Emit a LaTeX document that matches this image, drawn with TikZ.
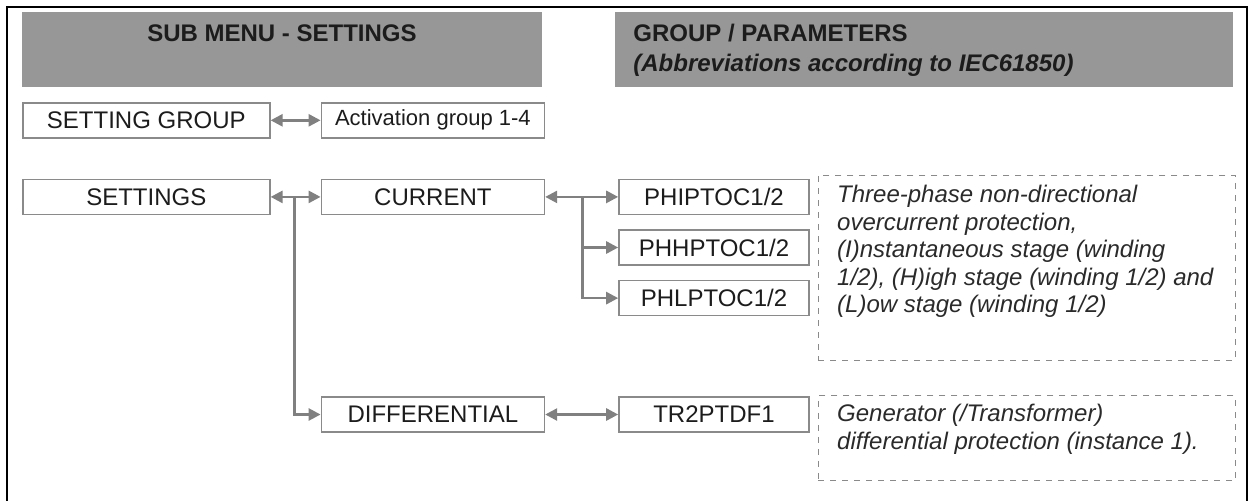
\documentclass[tikz,border=0pt]{standalone}
\usepackage{fontspec}
\setmainfont{Liberation Sans}
\usepackage{tikz}
\usetikzlibrary{arrows.meta, positioning}
\definecolor{headgray}{HTML}{979797}
\definecolor{framegray}{HTML}{8A8A8A}
\definecolor{linkgray}{HTML}{808080}
\definecolor{ink}{HTML}{1C1C1C}
\definecolor{descink}{HTML}{2A2A2A}

\begin{document}
\begin{tikzpicture}[x=0.5pt, y=-0.5pt, >={Triangle[length=6pt, width=6pt]}, font=\fontsize{12}{14}\selectfont]
    \tikzstyle{banner} = [rectangle, fill=headgray, minimum height=37.5pt, inner sep=0pt, anchor=north west]
    \tikzstyle{bannertext} = [inner sep=0pt, text=ink, font=\bfseries\fontsize{12}{14}\selectfont]
    \tikzstyle{menu} = [rectangle, draw=framegray, fill=white, line width=0.8pt, minimum height=17.5pt, inner sep=0pt, text=ink]
    \tikzstyle{param} = [menu, minimum width=95pt]
    \tikzstyle{descbox} = [rectangle, draw=framegray, dashed, line width=0.6pt, minimum width=208.5pt, inner sep=0pt]
    \tikzstyle{desc} = [align=left, inner sep=0pt, text=descink, font=\itshape\fontsize{12}{13.75}\selectfont]
    \tikzstyle{link} = [draw=linkgray, line width=1.3pt]

    \useasboundingbox (0,0) rectangle (1249,500);
    \draw [line width=1pt] (7,7) rectangle (1247,520);

    \node [banner, minimum width=260pt] (hsub) at (22,12) {};
    \node [banner, minimum width=309pt] (hgrp) at (615,12) {};
    \node [bannertext, anchor=base] (tsub) at (282,41.5) {SUB MENU - SETTINGS};
    \node [bannertext, anchor=base west] (tgrp) at (633,41.5) {GROUP / PARAMETERS};
    \node [bannertext, anchor=base west] (tabbr) at (633,71) {\itshape (Abbreviations according to IEC61850)};

    \node [menu, minimum width=123.5pt, anchor=north west] (sgrp) at (22,102) {SETTING GROUP};
    \node [menu, minimum width=111.5pt, right=25pt of sgrp, font=\fontsize{11}{13}\selectfont] (act) {Activation group 1-4};
    \node [menu, minimum width=123.5pt, below=20pt of sgrp] (sett) {SETTINGS};
    \node [menu, minimum width=111.5pt, right=25pt of sett] (cur) {CURRENT};
    \node [menu, minimum width=111.5pt, below=90.5pt of cur] (diff) {DIFFERENTIAL};

    \node [param, right=36.5pt of cur] (phi) {PHIPTOC1/2};
    \node [param, below=7pt of phi] (phh) {PHHPTOC1/2};
    \node [param, below=7pt of phh] (phl) {PHLPTOC1/2};
    \node [param, right=36.5pt of diff] (tr) {TR2PTDF1};

    \node [descbox, minimum height=92.5pt, above right=2pt and 4pt of phi.north east, anchor=north west] (d1) {};
    \node [desc, below right=5.25pt and 9.5pt of d1.north west] (t1) {Three-phase non-directional\\overcurrent protection,\\(I)nstantaneous stage (winding\\1/2), (H)igh stage (winding 1/2) and\\(L)ow stage (winding 1/2)};
    \node [descbox, minimum height=42.5pt, above right=0.5pt and 4pt of tr.north east, anchor=north west] (d2) {};
    \node [desc, below right=4.25pt and 9.5pt of d2.north west] (t2) {Generator (/Transformer)\\differential protection (instance 1).};

    \path [link, <->] (sgrp) -- (act);
    \path [link, <->] (sett) -- (cur);
    \path [link, <->] (cur) -- (phi);
    \path [link, <->] (diff) -- (tr);
    \coordinate (sfork) at ([xshift=12pt]sett.east);
    \coordinate (cfork) at ([xshift=18.5pt]cur.east);
    \path [link, ->] (sfork) |- (diff);
    \path [link, ->] (cfork) |- (phh);
    \path [link, ->] (cfork) |- (phl);
\end{tikzpicture}
\end{document}
